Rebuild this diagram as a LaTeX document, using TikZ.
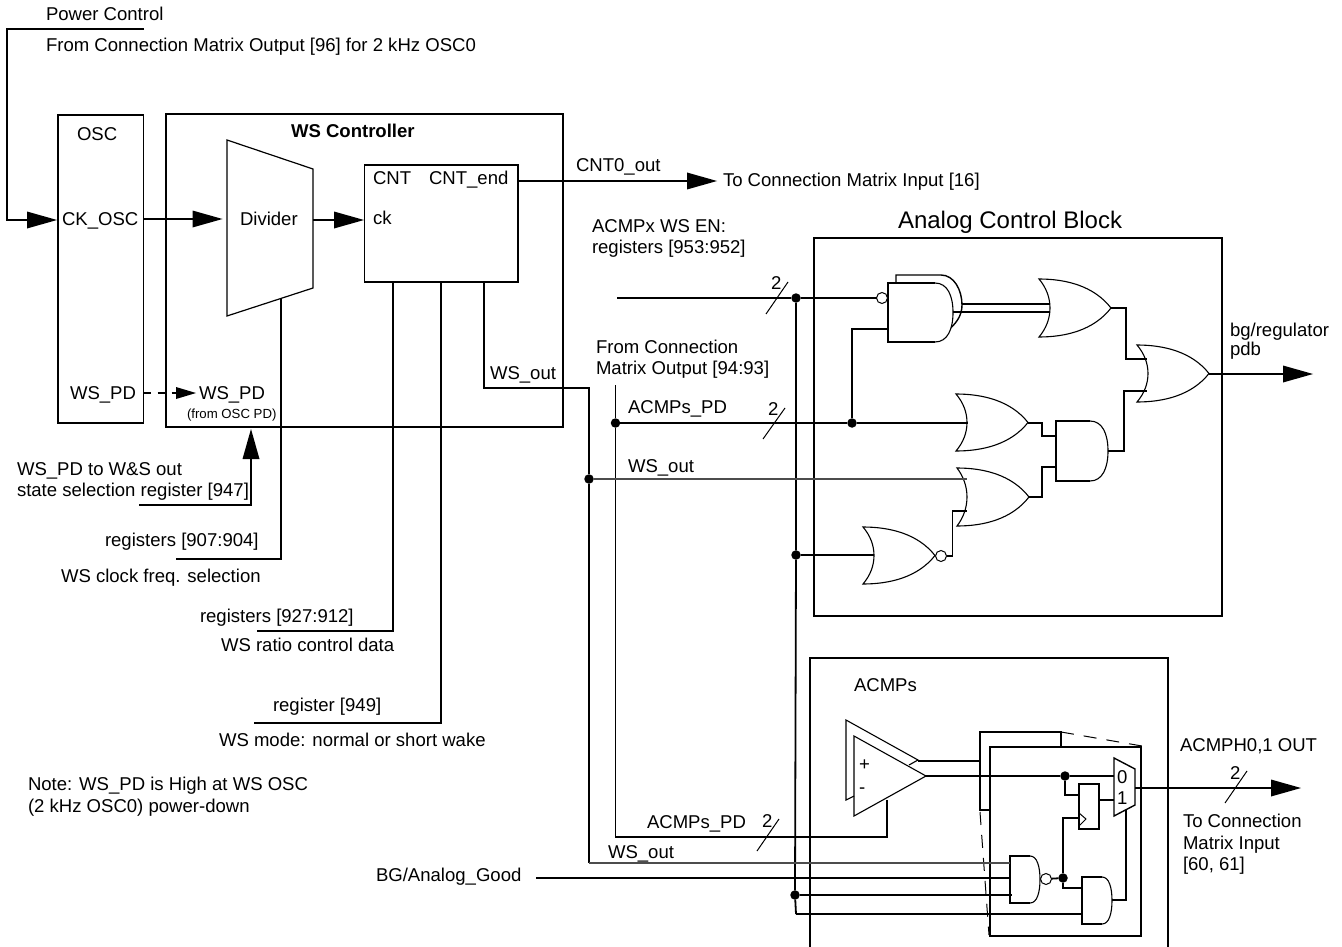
\documentclass[tikz,border=0pt]{standalone}
\usepackage{fontspec}
\setmainfont{Liberation Sans}
\usetikzlibrary{arrows.meta}
\tikzset{
  wire/.style={line width=1.8pt,line join=miter},
  thinwire/.style={line width=1.1pt,draw=black!70},
  slash/.style={line width=1pt},
  gateline/.style={line width=1.1pt},
  arrowed/.style={wire,-{Triangle[length=30pt,width=17pt,line width=0pt]}},
  smallarrow/.style={wire,-{Triangle[length=20pt,width=12pt,line width=0pt]}},
  dashlong/.style={line width=1pt,dash pattern=on 13pt off 10pt},
  lbl/.style={anchor=west,inner sep=0pt,outer sep=0pt,text height=13pt,text depth=0pt,font=\fontsize{18.55}{20}\selectfont},
  title/.style={lbl,font=\fontsize{24}{26}\selectfont,text height=17pt},
  boldlbl/.style={lbl,font=\fontsize{18.55}{20}\selectfont\bfseries},
  tiny/.style={lbl,font=\fontsize{13.2}{15}\selectfont,text height=9.5pt},
  boxn/.style={draw,line width=1.8pt,inner sep=0pt,outer sep=0pt,fill=none},
  dot/.style={circle,fill=black,inner sep=0pt,minimum size=9.5pt,outer sep=0pt},
  bubble/.style={circle,draw,line width=1pt,fill=white,inner sep=0pt,minimum size=11pt,outer sep=0pt}
}
% rectangular node from corners
\newcommand{\rectnode}[5]{%
  \pgfmathsetmacro\rw{#4-#2}\pgfmathsetmacro\rh{#5-#3}%
  \pgfmathsetmacro\rx{(#2+#4)/2}\pgfmathsetmacro\ry{(#3+#5)/2}%
  \node[boxn,minimum width=\rw pt,minimum height=\rh pt] (#1) at (\rx,\ry) {};}
% OR outline: x0 ytop ybottom xapex xback
\newcommand{\orgate}[5]{%
  \pgfmathsetmacro\oL{#4-#1}\pgfmathsetmacro\oH{#3-#2}%
  \pgfmathsetmacro\om{(#2+#3)/2}\pgfmathsetmacro\oc{#1+(#5-#1)/0.75}%
  \draw[gateline,fill=white] (#1,#2)
    .. controls ({#1+.37*\oL},#2) and ({#1+.76*\oL},{#2+.116*\oH}) .. (#4,\om)
    .. controls ({#1+.76*\oL},{#3-.116*\oH}) and ({#1+.37*\oL},#3) .. (#1,#3)
    .. controls (\oc,{#3-.3*\oH}) and (\oc,{#2+.3*\oH}) .. cycle;}
% AND outline: xl ytop ybottom xstraight xright
\newcommand{\andgate}[5]{%
  \pgfmathsetmacro\am{(#2+#3)/2}\pgfmathsetmacro\aH{#3-#2}%
  \draw[gateline,fill=white] (#4,#2)
    .. controls ({#4+.7*(#5-#4)},#2) and (#5,{#2+.22*\aH}) .. (#5,\am)
    .. controls (#5,{#3-.22*\aH}) and ({#4+.7*(#5-#4)},#3) .. (#4,#3);
  \draw[wire] (#4,#2) -- (#1,#2) -- (#1,#3) -- (#4,#3);}
\begin{document}
\begin{tikzpicture}[x=1pt,y=-1pt]
\useasboundingbox (0,0) rectangle (1342,947);

%% ---------- boxes
\rectnode{osc}{58}{115}{143.5}{423}
\rectnode{wsc}{166}{114}{563}{427}
\rectnode{cnt}{364.5}{165}{518}{282}
\rectnode{acb}{814}{238}{1222}{616}
\draw[wire] (810,947) coordinate (acL) -- (810,658) -- (1168,658) -- (1168,947) coordinate (acR);

%% ---------- left part labels
\node[lbl] (tpc) at (46,14) {Power Control};
\node[lbl] (tfcm) at (46,45) {From Connection Matrix Output [96] for 2 kHz OSC0};
\node[lbl] (tosc) at (77,134) {OSC};
\node[boldlbl] (twsc) at (291,131) {WS Controller};
\node[lbl] (tck) at (62,219) {CK\_OSC};
\node[lbl] (tdiv) at (240,219) {Divider};
\node[lbl] (tcnt) at (373,178) {CNT};
\node[lbl] (tcnte) at (429,178) {CNT\_end};
\node[lbl] (tckk) at (373,218) {ck};
\node[lbl] (twp1) at (70,393) {WS\_PD};
\node[lbl] (twp2) at (199,393) {WS\_PD};
\node[tiny] (tfrom) at (187,414) {(from OSC PD)};
\node[lbl] (ts1) at (17,469) {WS\_PD to W\&S out};
\node[lbl] (ts2) at (17,490) {state selection register [947]};
\node[lbl] (tr1) at (105,540) {registers [907:904]};
\node[lbl] (tr2) at (61,576) {WS clock freq. selection};
\node[lbl] (tr3) at (200,616) {registers [927:912]};
\node[lbl] (tr4) at (221,645) {WS ratio control data};
\node[lbl] (tr5) at (273,705) {register [949]};
\node[lbl] (tr6) at (219,740) {WS mode: normal or short wake};
\node[lbl] (tn1) at (28,784) {Note: WS\_PD is High at WS OSC};
\node[lbl] (tn2) at (28,806) {(2 kHz OSC0) power-down};
\node[lbl] (tcnt0) at (576,165) {CNT0\_out};
\node[lbl] (tto) at (723,180) {To Connection Matrix Input [16]};
\node[lbl] (tax1) at (592,226) {ACMPx WS EN:};
\node[lbl] (tax2) at (592,247) {registers [953:952]};
\node[lbl] (tfc1) at (596,347) {From Connection};
\node[lbl] (tfc2) at (596,368) {Matrix Output [94:93]};
\node[lbl] (tap1) at (628,407) {ACMPs\_PD};
\node[lbl] (tws1) at (628,466) {WS\_out};
\node[lbl] (tws0) at (490,373) {WS\_out};
\node[title] (tacb) at (898,220) {Analog Control Block};
\node[lbl] (tbg1) at (1230,330) {bg/regulator};
\node[lbl] (tbg2) at (1230,349) {pdb};
\node[lbl] (tacmp) at (854,685) {ACMPs};
\node[lbl] (tout) at (1180,745) {ACMPH0,1 OUT};
\node[lbl] (tc1) at (1183,821) {To Connection};
\node[lbl] (tc2) at (1183,843) {Matrix Input};
\node[lbl] (tc3) at (1183,864) {[60, 61]};
\node[lbl] (tap2) at (647,822) {ACMPs\_PD};
\node[lbl] (tws2) at (608,852) {WS\_out};
\node[lbl] (tbgg) at (376,875) {BG/Analog\_Good};
\node[lbl] (n2a) at (771,283) {2};
\node[lbl] (n2b) at (768,409) {2};
\node[lbl] (n2c) at (762,821) {2};
\node[lbl] (n2d) at (1230,773) {2};
\node[lbl] (t0) at (1117,777) {0};
\node[lbl] (t1) at (1117,798) {1};
\node[lbl] (tplus) at (859,764) {+};
\node[lbl] (tminus) at (859,787) {-};

%% ---------- divider
\coordinate (divTL) at (227,140);
\coordinate (divTR) at (313,169);
\coordinate (divBR) at (313,288);
\coordinate (divBL) at (227,316);
\draw[line width=1.2pt] (divTL) -- (divTR) -- (divBR) -- (divBL) -- cycle;

%% ---------- free ends and pins on the left
\coordinate (pc) at (144,29);
\coordinate (bendA) at (7,125);
\coordinate (oscin) at (57,220);
\coordinate (divin) at (222.5,219);
\coordinate (divout) at (313,220);
\coordinate (cntin) at (364,220);
\coordinate (tocm) at (717,181);
\coordinate (pdin) at (196,393);
\coordinate (wsup) at (251,429);
\coordinate (r947) at (139,505);
\coordinate (divdn) at (281,298);
\coordinate (r907) at (176,559);
\coordinate (c1) at (393,282);
\coordinate (r927) at (257,631);
\coordinate (c2) at (441,282);
\coordinate (r949) at (254,723);
\coordinate (c3) at (484,282);

\draw[arrowed] (pc) -| (bendA) |- (oscin);
\draw[arrowed] (osc.east |- divin) -- (divin);
\draw[arrowed] (divout) -- (cntin);
\draw[arrowed] (cnt.east |- tocm) -- (tocm);
\draw[smallarrow,dash pattern=on 7pt off 7pt] (osc.east |- pdin) -- (pdin);
\draw[arrowed] (r947) -| (wsup);
\draw[wire] (divdn) |- (r907);
\draw[wire] (c1) |- (r927);
\draw[wire] (c2) |- (r949);

%% ---------- junctions
\node[dot] (jA) at (796,298) {};
\node[dot] (jB) at (852,423) {};
\node[dot] (jC) at (615.5,423) {};
\node[dot] (jD) at (589,479) {};
\node[dot] (jE) at (796,555) {};
\node[dot] (jF) at (795,895) {};
\node[dot] (jG) at (1065,776) {};
\node[dot] (jH) at (1063,878) {};

%% ---------- bus wiring
\coordinate (wsturn) at (589,388);
\coordinate (apTop) at (615.5,385);
\coordinate (apBot) at (615.5,837);
\coordinate (acpin) at (887,800);
\coordinate (enin) at (617,298);
\coordinate (wsbot) at (589,863);
\coordinate (busbot) at (796,914);
\draw[wire] (c3) |- (wsturn) -- (jD) -- (wsbot);
\draw[wire] (apTop) -- (jC) -- (apBot) -| (acpin);
\draw[wire] (jA) -- (jE) -- (jF) -- (busbot);

%% ---------- analog control block gates
\draw[line width=1.4pt,fill=white] (896,283) -- (896,275) -- (941,275)
  .. controls (954,275) and (962,290) .. (962,305)
  .. controls (962,316) and (956,324) .. (946,332);
\andgate{888}{283}{342}{935}{953}
\node[bubble] (bA) at (882,298) {};
\orgate{1039}{279}{337}{1111}{1050}
\orgate{1137}{345}{402}{1209}{1148}
\orgate{956}{394}{451}{1028}{967}
\orgate{957}{468}{526}{1029}{967}
\orgate{863}{527}{584}{935}{874}
\node[bubble] (bB) at (941,556) {};
\andgate{1056}{421}{481}{1090}{1108}

\coordinate (n1a) at (962,304);
\coordinate (n1b) at (953,312);
\coordinate (o1a) at (1050,304);
\coordinate (o1b) at (1050,312);
\coordinate (o1o) at (1111,308);
\coordinate (fa) at (1147,359);
\coordinate (fb) at (1147,391);
\coordinate (fo) at (1209,374);
\coordinate (aout) at (1108,451);
\coordinate (o2in) at (968,423);
\coordinate (o2o) at (1028,423);
\coordinate (a1) at (1056,436);
\coordinate (a2) at (1056,467);
\coordinate (o3o) at (1029,497);
\coordinate (o3a) at (967,479);
\coordinate (o3b) at (967,511);
\coordinate (nin) at (874,555);
\coordinate (pdbend) at (1313,374);
\coordinate (nand1) at (888,329);

\draw[wire] (jA) -- (bA);
\draw[wire] (jB) |- (nand1);
\draw[wire] (jC) -- (jB) -- (o2in);
\draw[thinwire] (jD) -- (o3a);
\draw[wire] (n1a) -- (o1a);
\draw[wire] (n1b) -- (o1b);
\draw[wire] (o1o) -- ++(15,0) |- (fa);
\draw[wire] (aout) -- ++(16,0) |- (fb);
\draw[wire] (o2o) -- ++(14,0) |- (a1);
\draw[wire] (o3o) -- ++(13,0) |- (a2);
\draw[wire] (jE) -- (nin);
\draw[wire] (bB.east) -- ++(6,0) |- (o3b);
\draw[arrowed] (fo) -- (pdbend);

%% ---------- ACMPs
\coordinate (bk1) at (980,732);
\coordinate (bk2) at (1061,732);
\coordinate (bk3) at (980,810);
\rectnode{fr}{990}{747}{1141}{936}
\draw[wire] (bk2 |- fr.north) -- (bk2) -- (bk1) -- (bk3) -- (bk3 -| fr.west);
\draw[dashlong] (bk2) -- (1142,746);
\draw[dashlong] (980,812) -- (989,935);

\draw[line width=1.1pt] (909,765) -- (918,760) -- (846,720) -- (846,800) -- (854,796);
\draw[line width=1.1pt] (854,736) -- (926,776) -- (854,816) -- cycle;
\coordinate (cmpA) at (918,761);
\coordinate (cmpB) at (926,776);
\draw[wire] (cmpA) -- (bk3 |- cmpA);
\coordinate (muxTL) at (1114,758);
\coordinate (muxTR) at (1135,769);
\coordinate (muxBR) at (1135,805);
\coordinate (muxBL) at (1114,816);
\draw[line width=1.4pt] (muxTL) -- (muxTR) -- (muxBR) -- (muxBL) -- cycle;
\draw[wire] (cmpB) -- (jG) -- (jG -| muxTL);

\rectnode{ff}{1079}{784}{1099}{829}
\draw[line width=1pt] (1079,813) -- (1086,819) -- (1079,826);
\coordinate (ffd) at (1079,795);
\coordinate (ffck) at (1079,818);
\draw[wire] (jG) |- (ffd);
\draw[wire] (ff.east |- 0,800) -- (muxTL |- 0,800);
\draw[wire] (ffck) -| (jH);

\andgate{1010}{856}{903}{1030}{1040}
\node[bubble] (bC) at (1046,879) {};
\andgate{1082}{877}{924}{1102}{1112}
\draw[wire] (bC) -- (jH);
\coordinate (and2a) at (1082,888);
\coordinate (and2o) at (1112,900);
\coordinate (muxpin) at (1126,810);
\draw[wire] (jH) |- (and2a);
\draw[wire] (and2o) -| (muxpin);

\coordinate (nandA) at (1010,863);
\coordinate (nandB) at (1010,878);
\coordinate (nandC) at (1012,895);
\coordinate (and2b) at (1082,914);
\coordinate (bgstart) at (536,878);
\draw[thinwire] (wsbot) -- (nandA);
\draw[wire] (bgstart) -- (nandB);
\draw[wire] (jF) -- (nandC);
\draw[wire] (busbot) -- (and2b);

\coordinate (outpin) at (1135,788);
\coordinate (outtip) at (1301,788);
\draw[arrowed] (outpin) -- (outtip);

%% ---------- enable input line and slashes
\draw[wire] (enin) -- (jA);
\draw[slash] (788,282) -- (766,314);
\draw[slash] (785,408) -- (763,439);
\draw[slash] (779,819) -- (757,851);
\draw[slash] (1247,771) -- (1225,803);
\end{tikzpicture}
\end{document}
